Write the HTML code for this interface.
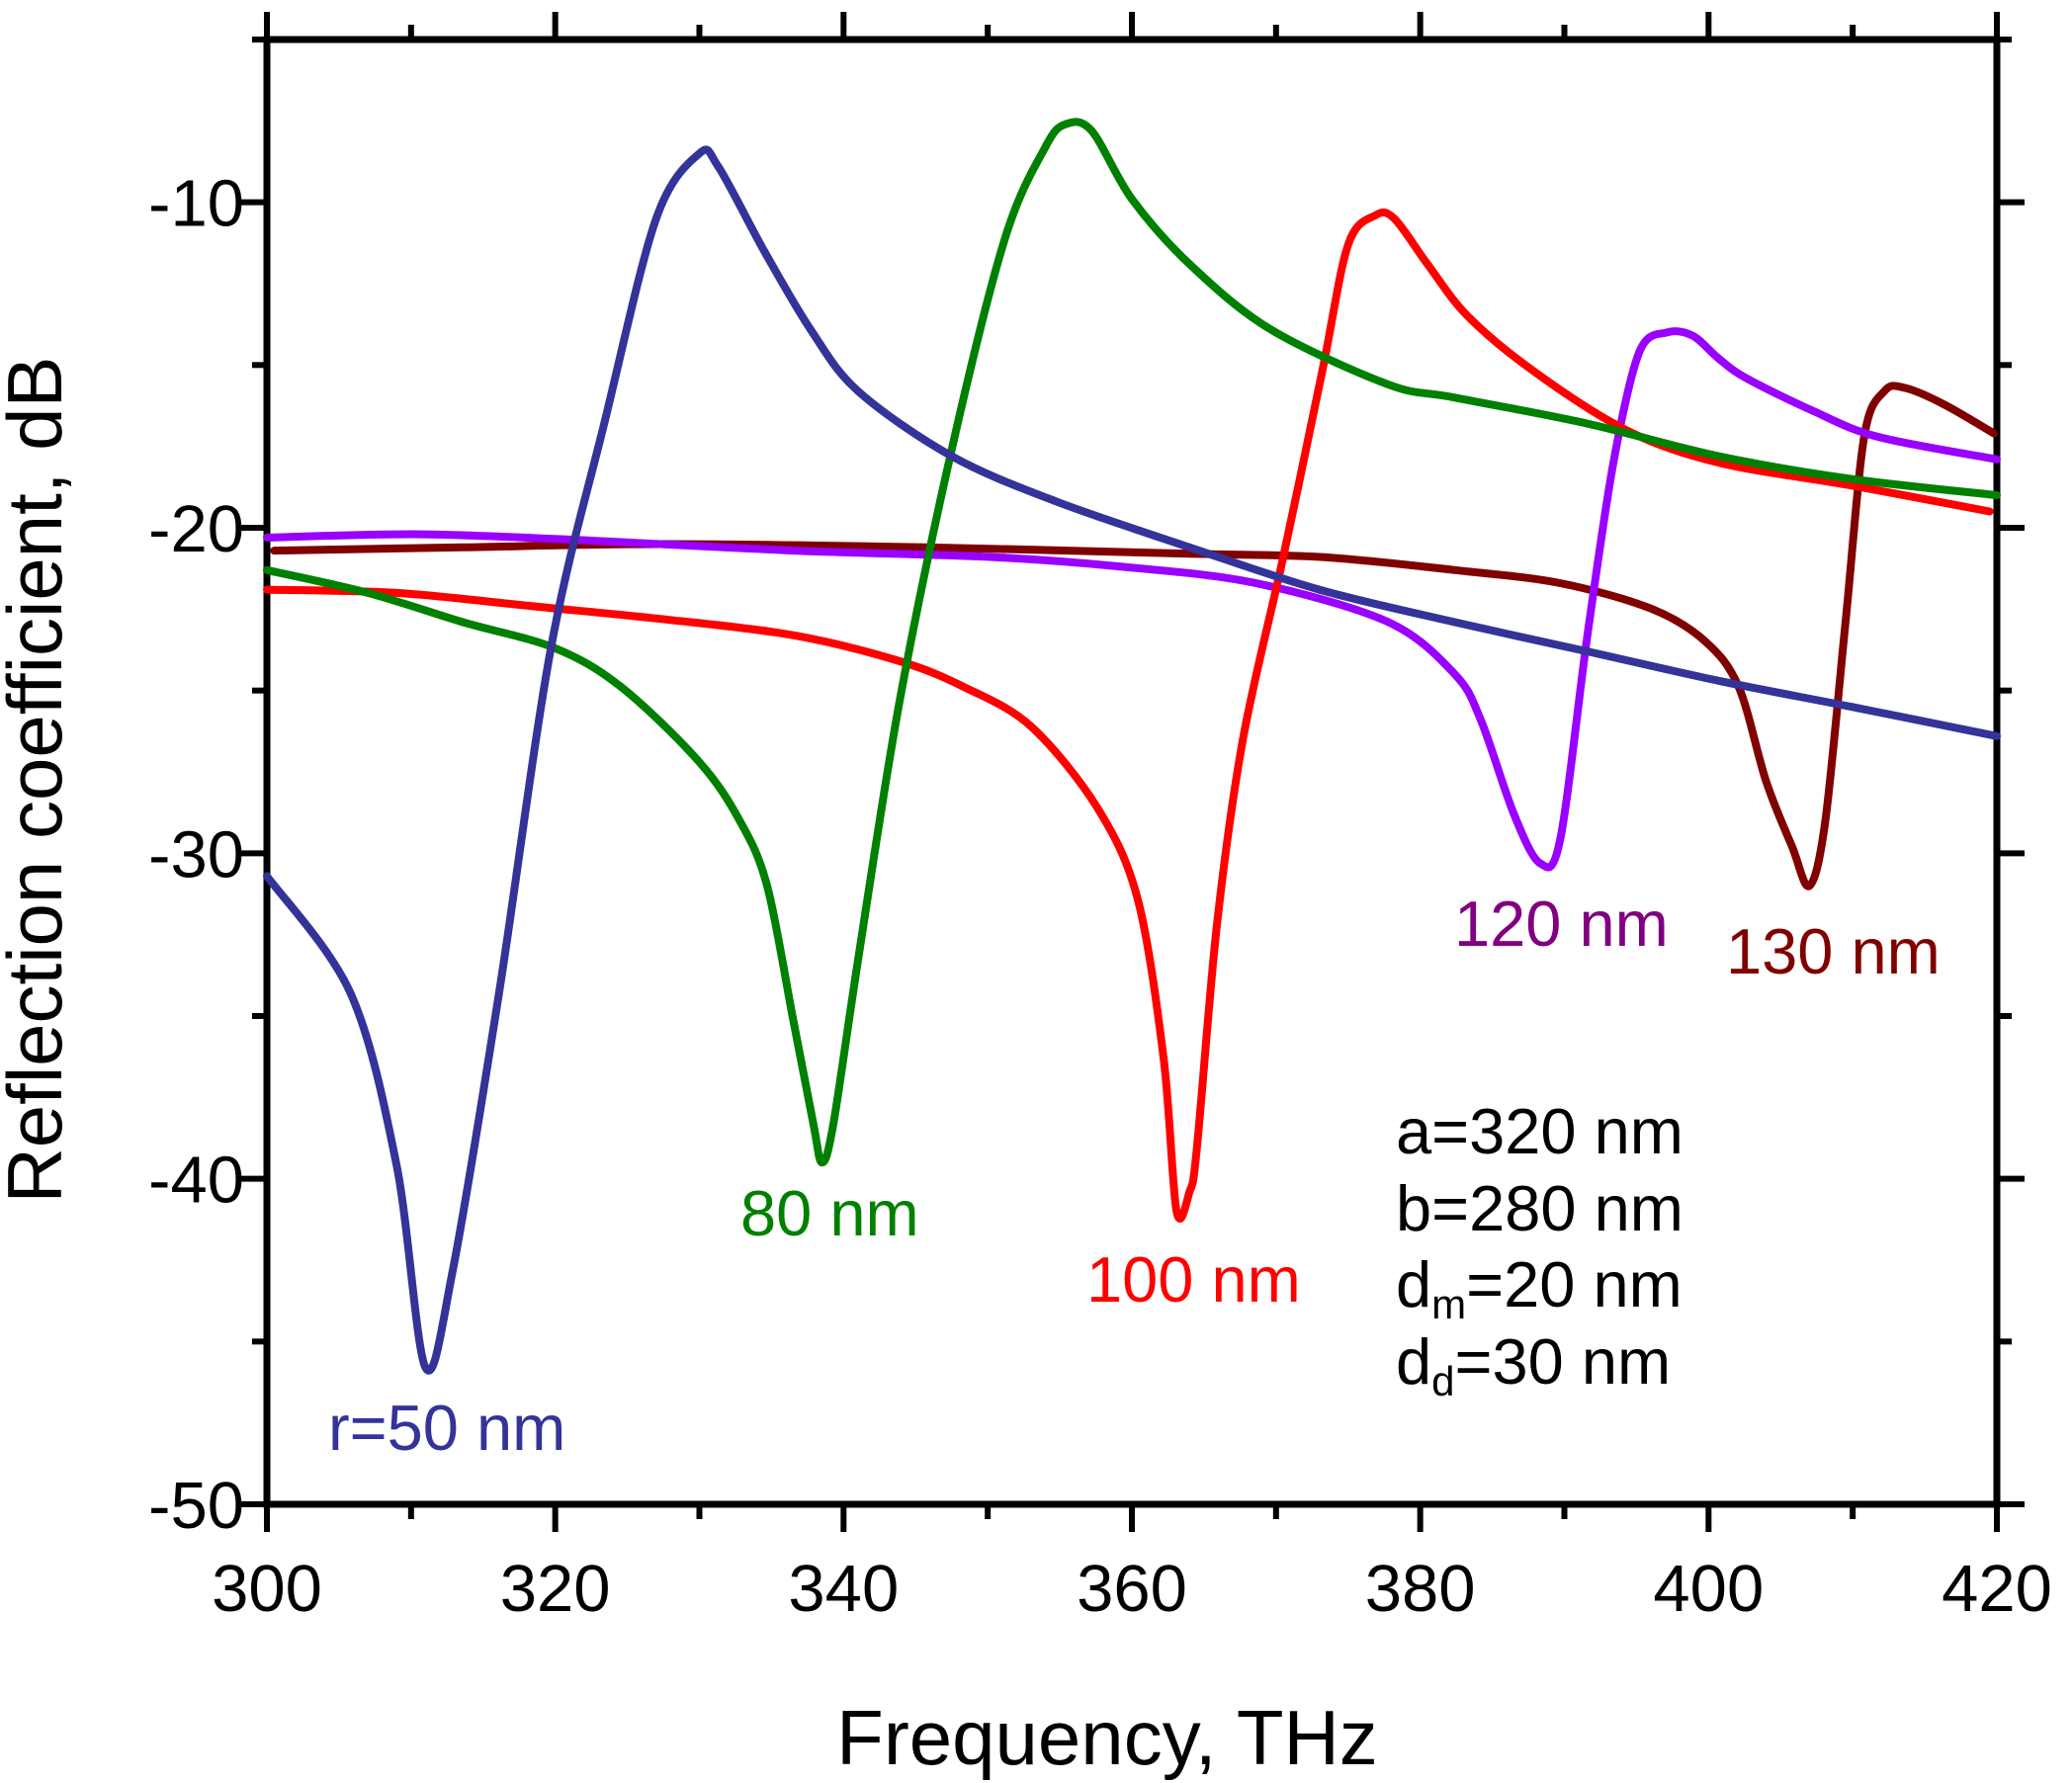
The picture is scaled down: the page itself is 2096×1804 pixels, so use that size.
<!DOCTYPE html>
<html><head><meta charset="utf-8"><style>
html,body{margin:0;padding:0;background:#fff}
svg{display:block}
text{font-family:"Liberation Sans",Arial,sans-serif}
</style></head><body>
<svg id="chart" width="2096" height="1804" viewBox="0 0 2096 1804">
<g id="axes"></g>
<g id="series"></g>
<text x="1120" y="1785" font-size="78" text-anchor="middle">Frequency, THz</text>
<text transform="translate(62,789) rotate(-90)" font-size="78" text-anchor="middle">Reflection coefficient, dB</text>
<text x="332" y="1467" font-size="65" fill="#333399">r=50 nm</text>
<text x="749" y="1250" font-size="65" fill="#008000">80 nm</text>
<text x="1099" y="1317" font-size="65" fill="#ff0000">100 nm</text>
<text x="1471" y="957" font-size="65" fill="#800080">120 nm</text>
<text x="1746" y="985" font-size="65" fill="#800000">130 nm</text>
<g font-size="65">
<text x="1412" y="1167">a=320 nm</text>
<text x="1412" y="1245">b=280 nm</text>
<text x="1412" y="1322">d<tspan font-size="42" dy="12">m</tspan><tspan dy="-12">=20 nm</tspan></text>
<text x="1412" y="1400">d<tspan font-size="42" dy="12">d</tspan><tspan dy="-12">=30 nm</tspan></text>
</g>
</svg>
<script>
const xTicks=[300,320,340,360,380,400,420];
const yTicks=[-50,-40,-30,-20,-10];
const blueX=[300,305.8,309,311,312.9,316.1,319.7,323.4,327,330,331.3,334.5,337.7,341,347.5,354.8,364,373,382.4,391.6,400.7,409.9,420];
const blueY=[-30.7,-34.3,-39.6,-45.8,-42.8,-34.3,-23.7,-16.8,-10.5,-8.5,-8.9,-11.5,-13.9,-15.8,-17.8,-19.2,-20.6,-21.9,-22.9,-23.8,-24.7,-25.5,-26.4];
const greenX=[300,307,313.6,320,324.6,330,332.8,334.7,336.5,337.9,338.5,339.3,341.1,343.9,347.5,351.2,354,355.4,357.2,360,364,369.6,377.8,382.4,391.6,400.7,409.9,420];
const greenY=[-21.3,-22,-22.9,-23.7,-24.9,-27.2,-29,-31,-35.1,-38.3,-39.5,-38.3,-33,-25.3,-17.6,-11.1,-8.3,-7.6,-7.8,-9.9,-11.9,-13.9,-15.6,-16,-16.8,-17.8,-18.5,-19];
const redX=[300,309,318.2,327.3,336.5,343.9,348.4,353,357.6,360.4,362.2,363.1,364,364.5,365.9,367.7,370.5,373.2,375,376.9,378.2,380.5,383.3,387.9,394.3,400.7,409.9,419.5];
const redY=[-21.9,-22,-22.4,-22.8,-23.3,-24.1,-24.9,-26.1,-28.6,-31.4,-36.3,-41,-40.4,-39.1,-32.2,-26.5,-20.9,-15.2,-11.3,-10.4,-10.5,-11.9,-13.5,-15.2,-17,-18,-18.7,-19.5];
const purpleX=[300,310.8,322.8,336.5,350.3,359.4,368.6,377.8,382.4,384.2,386.5,388.3,389.7,391.6,393.4,395.2,397.1,398.9,400.7,402.6,407.2,411.7,420];
const purpleY=[-20.3,-20.2,-20.4,-20.7,-20.9,-21.2,-21.7,-22.9,-24.5,-25.9,-28.8,-30.3,-29.6,-23.3,-18,-14.6,-14,-14.1,-14.8,-15.4,-16.4,-17.2,-17.9];
const brownX=[300.5,313.6,327.3,345.7,364,373.2,382.4,389.7,396.1,399.8,402.1,404,405.8,407,408.1,409.5,410.8,412.2,413.6,416.3,419.8];
const brownY=[-20.7,-20.6,-20.5,-20.6,-20.8,-20.9,-21.3,-21.7,-22.5,-23.5,-24.9,-27.8,-29.8,-31,-29,-22.9,-17.2,-15.8,-15.7,-16.2,-17.1];

const NS='http://www.w3.org/2000/svg';
const X0=270,X1=2020,Y0=1522,Y1=40;
function sx(v){return X0+(v-300)/120*(X1-X0);}
function sy(v){return Y0-(v+50)/45*(Y0-Y1);}
function mk(tag,attrs,parent){const e=document.createElementNS(NS,tag);for(const k in attrs)e.setAttribute(k,attrs[k]);parent.appendChild(e);return e;}
const axes=document.getElementById('axes');
const frame=mk('rect',{x:X0,y:Y1,width:X1-X0,height:Y0-Y1,fill:'none',stroke:'#000','stroke-width':7},axes);


for(let v=300;v<=420;v+=10){
  const major=(v%20===0);const L=major?28:15;const x=sx(v);
  const b=mk('line',{x1:x,x2:x,y1:Y0,y2:Y0+L,stroke:'#000','stroke-width':6},axes);
  
  
  const t=mk('line',{x1:x,x2:x,y1:Y1,y2:Y1-L,stroke:'#000','stroke-width':6},axes);
  
  
}
xTicks.forEach(v=>{
  const t=mk('text',{x:sx(v),y:1630,'font-size':67,'text-anchor':'middle'},axes);
  t.textContent=v;
  
  
});
for(let v=-50;v<=-5;v+=5){
  const major=(v%10===0);const L=major?28:15;const y=sy(v);
  const l=mk('line',{x1:X0-L,x2:X0,y1:y,y2:y,stroke:'#000','stroke-width':6},axes);
  
  
  const r=mk('line',{x1:X1,x2:X1+L,y1:y,y2:y,stroke:'#000','stroke-width':6},axes);
  
  
}
yTicks.forEach(v=>{
  const t=mk('text',{x:247,y:sy(v)+24,'font-size':67,'text-anchor':'end'},axes);
  t.textContent=v;
  
  
});
const ser=document.getElementById('series');
function draw(xs,ys,color,name){
  const P=xs.map((x,i)=>[sx(x),sy(ys[i])]);
  let d='M'+P[0][0].toFixed(1)+','+P[0][1].toFixed(1);
  const k=0.16;
  for(let i=0;i<P.length-1;i++){
    const p0=P[Math.max(0,i-1)],p1=P[i],p2=P[i+1],p3=P[Math.min(P.length-1,i+2)];
    const c1=[p1[0]+(p2[0]-p0[0])*k,p1[1]+(p2[1]-p0[1])*k];
    const c2=[p2[0]-(p3[0]-p1[0])*k,p2[1]-(p3[1]-p1[1])*k];
    d+=' C'+c1.map(v=>v.toFixed(1)).join(',')+' '+c2.map(v=>v.toFixed(1)).join(',')+' '+p2[0].toFixed(1)+','+p2[1].toFixed(1);
  }
  const p=mk('path',{d:d,fill:'none',stroke:color,'stroke-width':8,'stroke-linejoin':'round','stroke-linecap':'round'},ser);
  
  
}
draw(brownX,brownY,'#800000','series-130nm');
draw(purpleX,purpleY,'#9900ff','series-120nm');
draw(redX,redY,'#ff0000','series-100nm');
draw(greenX,greenY,'#008000','series-80nm');
draw(blueX,blueY,'#333399','series-50nm');
</script>
</body></html>
